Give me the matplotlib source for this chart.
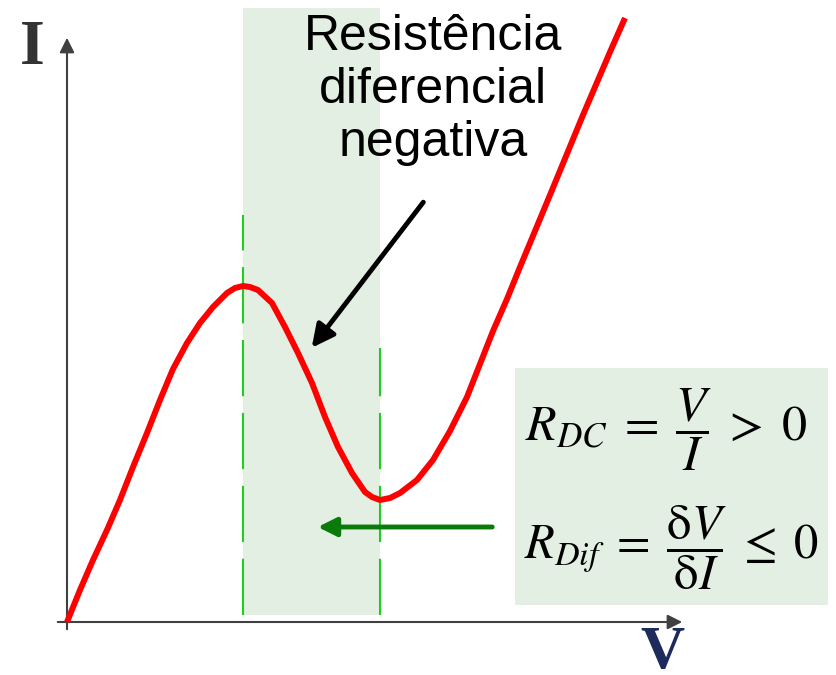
import matplotlib.pyplot as plt
from matplotlib.patches import Rectangle

# curva I-V (diodo tunel), unidades arbitrarias
v = [0.00, 0.13, 0.26, 0.40, 0.53, 0.66, 0.80, 0.93, 1.06, 1.20, 1.33, 1.46, 1.60,
     1.68, 1.76, 1.83, 1.91, 2.05, 2.18, 2.31, 2.45, 2.58, 2.71, 2.85, 2.98, 3.05,
     3.13, 3.23, 3.33, 3.50, 3.66, 3.83, 4.00, 4.13, 4.26, 4.40, 4.53, 4.83, 5.16,
     5.43, 5.58]
i = [0.00, 0.32, 0.62, 0.92, 1.22, 1.55, 1.89, 2.22, 2.53, 2.79, 2.99, 3.15, 3.29,
     3.34, 3.36, 3.35, 3.32, 3.19, 2.95, 2.69, 2.39, 2.05, 1.75, 1.49, 1.30, 1.25,
     1.22, 1.24, 1.29, 1.42, 1.62, 1.91, 2.25, 2.58, 2.91, 3.23, 3.55, 4.27, 5.07,
     5.70, 6.04]

# pico e vale
v_pico, i_pico = 1.76, 3.36
v_vale, i_vale = 3.13, 1.22

texto_ndr = "Resistência\ndiferencial\nnegativa"
formula_dc = r"$R_{DC}\;=\;\dfrac{V}{I}\;>\;0$"
formula_dif = r"$R_{Dif}\;=\;\dfrac{\mathrm{\delta} V}{\mathrm{\delta} I}\;\leq\;0$"

plt.rcParams['mathtext.fontset'] = 'stix'

fig = plt.figure(figsize=(8.37, 6.75), dpi=100)
ax = fig.add_axes([0, 0, 1, 1])
ax.set_xlim(-0.67, 7.70)
ax.set_ylim(-0.53, 6.22)
ax.axis('off')

# regiao de resistencia negativa
ax.axvspan(v_pico, v_vale, ymin=(0.07 + 0.53) / 6.75, ymax=(6.14 + 0.53) / 6.75,
           color='#e2efe2', lw=0, zorder=0)
ax.plot([v_pico, v_pico], [0.07, 4.07], color='#22cc22', lw=1.5, dashes=(27, 8), zorder=1)
ax.plot([v_vale, v_vale], [0.07, 2.74], color='#22cc22', lw=1.5, dashes=(27, 8), zorder=1)

# eixos
ax.annotate('', xy=(0, 5.87), xytext=(0, -0.10),
            arrowprops=dict(arrowstyle='-|>', color='#404040', lw=1.5, mutation_scale=22))
ax.annotate('', xy=(6.18, 0), xytext=(-0.12, 0),
            arrowprops=dict(arrowstyle='-|>', color='#404040', lw=1.5, mutation_scale=22))
ax.text(-0.35, 5.73, 'I', fontsize=46, fontweight='bold', family='Liberation Serif',
        color='#333333', ha='center', va='center')
ax.text(5.95, -0.46, 'V', fontsize=44, fontweight='bold', family='Liberation Serif',
        color='#1c2a5c', ha='center', va='baseline')

ax.plot(v, i, color='red', lw=4.3, solid_capstyle='butt', solid_joinstyle='round', zorder=3)

ax.text(3.66, 6.08, texto_ndr, fontsize=36, family='Liberation Sans', ha='center',
        va='top', linespacing=1.2, color='black', zorder=4)
ax.annotate('', xy=(2.43, 2.72), xytext=(3.58, 4.22),
            arrowprops=dict(arrowstyle='-|>', color='black', lw=3.5, mutation_scale=34),
            zorder=4)

# caixa das formulas
ax.add_patch(Rectangle((4.48, 0.17), 3.13, 2.37, color='#e2efe2', lw=0, zorder=2))
ax.text(5.99, 1.92, formula_dc, fontsize=36, ha='center', va='center', zorder=4)
ax.text(6.04, 0.74, formula_dif, fontsize=35, ha='center', va='center', zorder=4)
ax.annotate('', xy=(2.48, 0.95), xytext=(4.28, 0.95),
            arrowprops=dict(arrowstyle='-|>', color='#0a7a0a', lw=3.5, mutation_scale=28),
            zorder=4)

fig.savefig('out.png', dpi=100)
